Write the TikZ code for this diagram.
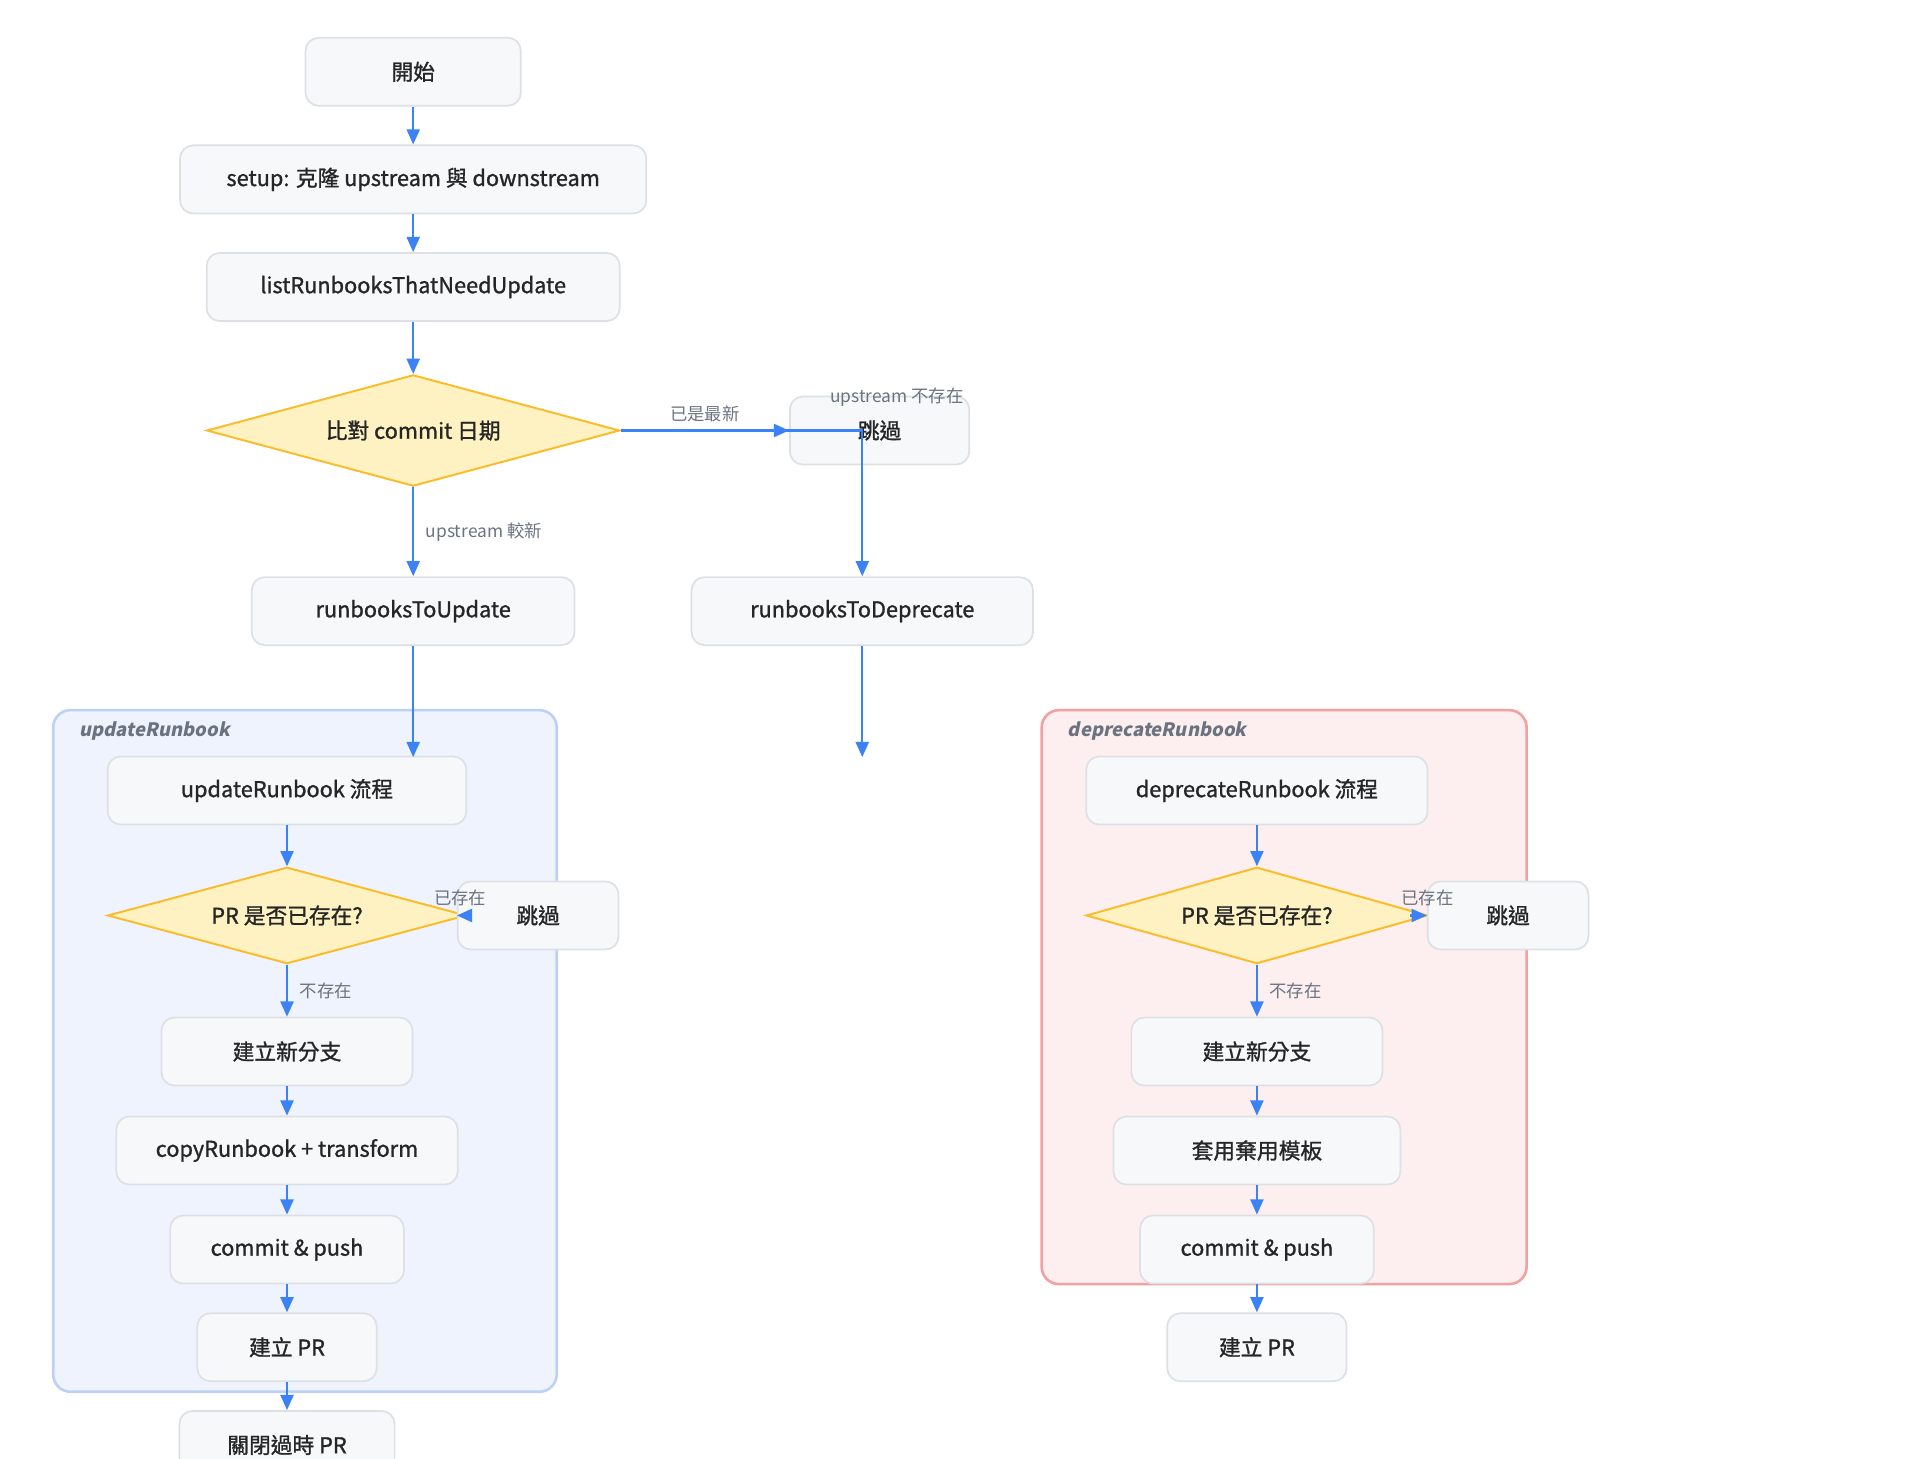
\documentclass[tikz,border=0pt]{standalone}
\usepackage{fontspec}
\setmainfont{Noto Sans CJK TC}
\newfontfamily\clfont{Noto Sans CJK TC}[FakeSlant=0.2]
\newfontfamily\boxfont{Noto Sans CJK TC}[FakeBold=1.2]
\usetikzlibrary{shapes.geometric,arrows.meta}
\definecolor{boxfill}{HTML}{F7F8FA}
\definecolor{boxline}{HTML}{DDE1E6}
\definecolor{decfill}{HTML}{FFF2C2}
\definecolor{decline}{HTML}{FBBC2A}
\definecolor{edge}{HTML}{3B82F6}
\definecolor{lblgray}{HTML}{6B7280}
\definecolor{updfill}{HTML}{EEF3FD}
\definecolor{updline}{HTML}{BFD0F5}
\definecolor{depfill}{HTML}{FDEFEF}
\definecolor{depline}{HTML}{F2A0A0}
\tikzset{
  box/.style={draw=boxline, fill=boxfill, line width=0.8pt, rounded corners=6pt,
    minimum height=1.1cm, inner sep=0pt, text=black!85, font=\boxfont\fontsize{10}{12}\selectfont},
  dec/.style={diamond, draw=decline, fill=decfill, line width=0.9pt, inner sep=0pt,
    text=black!85, font=\boxfont\fontsize{10}{12}\selectfont},
  flow/.style={draw=edge, line width=1pt, -{Triangle[length=7pt,width=6pt]}},
  lbl/.style={text=lblgray, font=\fontsize{8}{10}\selectfont},
  cluster/.style={rounded corners=8pt, line width=1.2pt}
}
\begin{document}
\begin{tikzpicture}[x=0.02cm, y=-0.02cm]
  \useasboundingbox (0,0) rectangle (1552,1179);

  % clusters
  \draw[cluster, draw=updline, fill=updfill] (43,574) rectangle (450,1125);
  \node[anchor=west, text=lblgray, font=\clfont\bfseries\fontsize{8.5}{10}\selectfont] (updlbl) at (58,591) {updateRunbook};
  \draw[cluster, draw=depline, fill=depfill] (842,574) rectangle (1234,1038);
  \node[anchor=west, text=lblgray, font=\clfont\bfseries\fontsize{8.5}{10}\selectfont] (deplbl) at (857,591) {deprecateRunbook};

  % main flow
  \node[box, minimum width=3.48cm] (start) at (334,58) {開始};
  \node[box, minimum width=7.54cm] (setup) at (334,145) {setup: 克隆 upstream 與 downstream};
  \node[box, minimum width=6.68cm] (list) at (334,232) {listRunbooksThatNeedUpdate};
  \node[dec, minimum width=6.68cm, minimum height=1.8cm, aspect=3.7] (cmp) at (334,348) {比對 commit 日期};
  \node[box, minimum width=2.9cm] (skip) at (711,348) {跳過};
  \node[box, minimum width=5.22cm] (toupd) at (334,494) {runbooksToUpdate};
  \node[box, minimum width=5.52cm] (todep) at (697,494) {runbooksToDeprecate};
  \coordinate (updin) at (334,612);
  \coordinate (depin) at (697,612);
  \coordinate (bend) at (697,348);

  % update cluster
  \node[box, minimum width=5.8cm] (upd) at (232,639) {updateRunbook 流程};
  \node[dec, minimum width=5.8cm, minimum height=1.56cm, aspect=3.7] (upr) at (232,740) {PR 是否已存在?};
  \node[box, minimum width=2.6cm] (uskip) at (435,740) {跳過};
  \node[box, minimum width=4.06cm] (ubr) at (232,850) {建立新分支};
  \node[box, minimum width=5.52cm] (ucopy) at (232,930) {copyRunbook + transform};
  \node[box, minimum width=3.78cm] (ucom) at (232,1010) {commit \& push};
  \node[box, minimum width=2.9cm] (upr2) at (232,1089) {建立 PR};
  \node[box, minimum width=3.48cm] (close) at (232,1168) {關閉過時 PR};

  % deprecate cluster
  \node[box, minimum width=5.52cm] (dep) at (1016,639) {deprecateRunbook 流程};
  \node[dec, minimum width=5.52cm, minimum height=1.56cm, aspect=3.5] (dpr) at (1016,740) {PR 是否已存在?};
  \node[box, minimum width=2.6cm] (dskip) at (1219,740) {跳過};
  \node[box, minimum width=4.06cm] (dbr) at (1016,850) {建立新分支};
  \node[box, minimum width=4.64cm] (dtpl) at (1016,930) {套用棄用模板};
  \node[box, minimum width=3.78cm] (dcom) at (1016,1010) {commit \& push};
  \node[box, minimum width=2.9cm] (dpr2) at (1016,1089) {建立 PR};

  % edges
  \draw[flow] (start) -- (setup);
  \draw[flow] (setup) -- (list);
  \draw[flow] (list) -- (cmp);
  \draw[flow] (cmp.east) -- node[lbl, above] {已是最新} (skip.west);
  \draw[flow] (cmp.east) -- (bend) -- (todep.north);
  \node[lbl] (gone) at (725,321) {upstream 不存在};
  \draw[flow] (cmp) -- node[lbl, right, xshift=2pt] {upstream 較新} (toupd);
  \draw[flow] (toupd) -- (updin);
  \draw[flow] (todep) -- (depin);

  \draw[flow] (upd) -- (upr);
  \draw[flow] (upr.east) -- (uskip.west);
  \node[lbl] (uex) at (372,726) {已存在};
  \draw[flow] (upr) -- node[lbl, right, xshift=2pt] {不存在} (ubr);
  \draw[flow] (ubr) -- (ucopy);
  \draw[flow] (ucopy) -- (ucom);
  \draw[flow] (ucom) -- (upr2);
  \draw[flow] (upr2) -- (close);

  \draw[flow] (dep) -- (dpr);
  \draw[flow] ([xshift=-0.3cm]dpr.east) -- (dskip.west);
  \node[lbl] (dex) at (1154,726) {已存在};
  \draw[flow] (dpr) -- node[lbl, right, xshift=2pt] {不存在} (dbr);
  \draw[flow] (dbr) -- (dtpl);
  \draw[flow] (dtpl) -- (dcom);
  \draw[flow] (dcom) -- (dpr2);
\end{tikzpicture}
\end{document}
